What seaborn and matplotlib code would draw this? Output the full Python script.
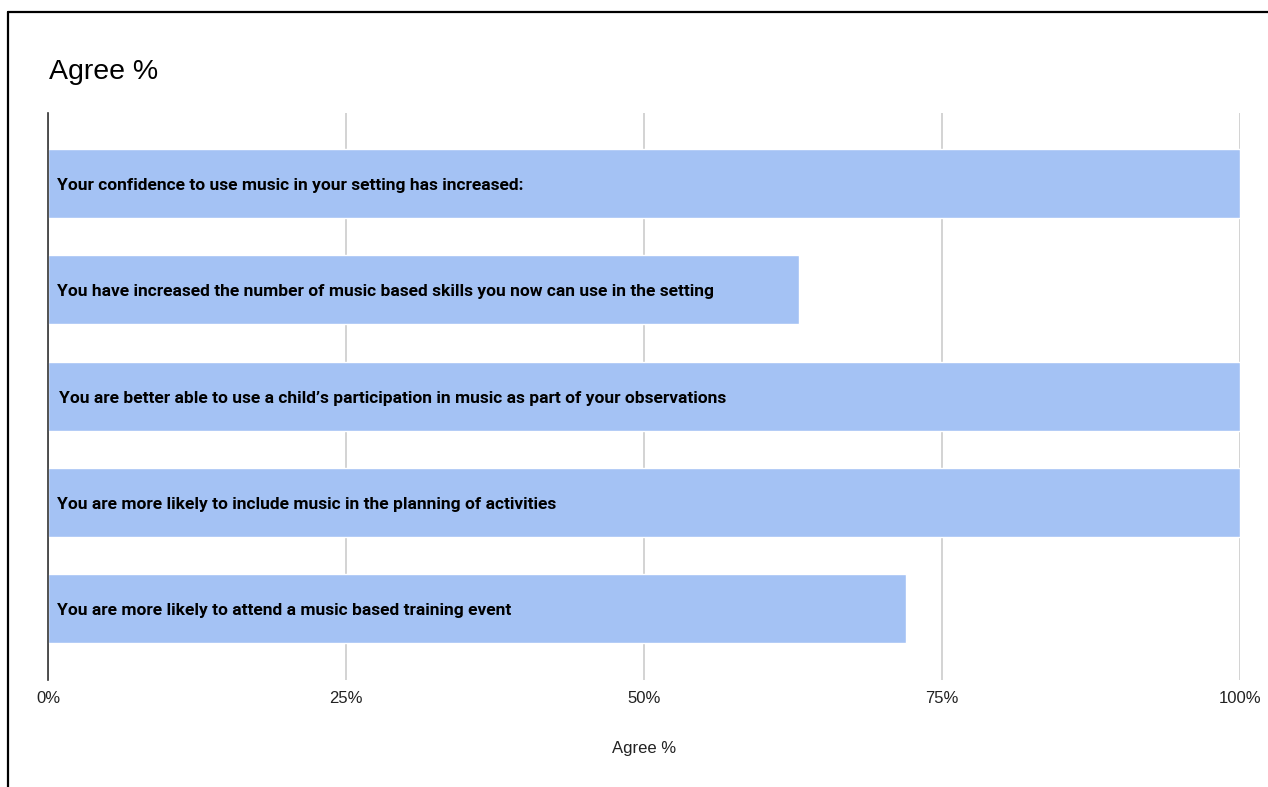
import matplotlib
matplotlib.use("Agg")
import matplotlib.pyplot as plt
import seaborn as sns
import pandas as pd
from matplotlib.lines import Line2D
from matplotlib.ticker import FixedLocator
import matplotlib.transforms as mtrans

statements = [
    "Your confidence to use music in your setting has increased:",
    "You have increased the number of music based skills you now can use in the setting",
    "You are better able to use a child\u2019s participation in music as part of your observations",
    "You are more likely to include music in the planning of activities",
    "You are more likely to attend a music based training event",
]
agree_pct = [100, 63, 100, 100, 72]
x_ticks = [0, 25, 50, 75, 100]
x_tick_labels = ["0%", "25%", "50%", "75%", "100%"]
title = "Agree %"
x_label = "Agree %"

df = pd.DataFrame({"statement": statements, "agree": agree_pct})

sns.set_theme(style="white")
plt.rcParams["font.family"] = ["Liberation Sans", "DejaVu Sans"]

W, H = 1268, 787
fig = plt.figure(figsize=(W / 100, H / 100), dpi=100)
ax = fig.add_axes([48 / W, 1 - 680 / H, (1240 - 48) / W, (680 - 113) / H])

sns.barplot(data=df, y="statement", x="agree", orient="h", color="#a4c2f4",
            saturation=1, width=0.65, ax=ax, zorder=2)

ax.set_xlim(0, 100)
ax.set_ylim(4.67, -0.665)
ax.xaxis.set_major_locator(FixedLocator(x_ticks))
ax.set_xticklabels(x_tick_labels)
ax.tick_params(axis="x", length=0, labelsize=12, colors="#222222", pad=8)
ax.set_yticks([])
ax.set_ylabel("")
ax.set_xlabel(x_label, fontsize=12, color="#222222", labelpad=25)
ax.grid(axis="x", color="#cccccc", linewidth=1.2, zorder=0)
ax.set_axisbelow(True)
for s in ["top", "right", "bottom"]:
    ax.spines[s].set_visible(False)
ax.spines["left"].set_color("#333333")
ax.spines["left"].set_linewidth(1.2)
ax.spines["left"].set_zorder(3)

offsets = [9, 9, 11, 9, 9]
for i, s in enumerate(statements):
    tr = mtrans.offset_copy(ax.transData, fig=fig, x=offsets[i], y=-2, units="dots")
    ax.text(0, i, s, transform=tr, ha="left", va="center",
            fontsize=12.5, fontweight="bold", family=["Roboto", "DejaVu Sans"],
            color="#000000", zorder=4)

fig.text(49 / W, 1 - 72 / H, title, fontsize=20.5, color="#000000",
         ha="left", va="center")

# outer frame (top and left)
fig.add_artist(Line2D([8 / W, 1], [1 - 12 / H, 1 - 12 / H], color="black",
                      linewidth=1.6, transform=fig.transFigure))
fig.add_artist(Line2D([8 / W, 8 / W], [0, 1 - 12 / H], color="black",
                      linewidth=1.6, transform=fig.transFigure))

fig.savefig("out.png", dpi=100)
